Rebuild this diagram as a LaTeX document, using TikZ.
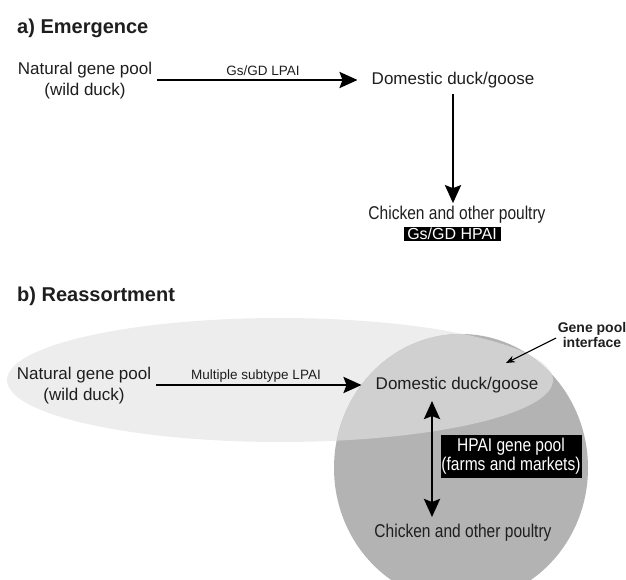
\documentclass[tikz,border=0pt]{standalone}
\usepackage{fontspec}
\setmainfont{Liberation Sans}
\newfontfamily\condfont[FakeStretch=0.84]{Liberation Sans}
\usetikzlibrary{arrows.meta}
\definecolor{txt}{RGB}{30,30,30}
\definecolor{wildpool}{RGB}{237,237,237}
\definecolor{overlap}{RGB}{208,208,208}
\definecolor{hpaipool}{RGB}{179,179,179}
\tikzset{
  lab/.style={font=\fontsize{17}{21}\selectfont, text=txt, align=center, inner sep=2pt},
  smalllab/.style={font=\fontsize{13.5}{16}\selectfont, text=txt, inner sep=1pt},
  condlab/.style={font=\condfont\fontsize{18.5}{19}\selectfont, text=txt, inner sep=2pt},
  paneltitle/.style={font=\bfseries\fontsize{20}{22}\selectfont, text=txt, anchor=west, inner sep=0pt},
  bigarrow/.style={line width=2.8pt, draw=black, -{Stealth[length=18pt,width=16pt,inset=3pt]}},
  dblarrow/.style={line width=2.8pt, draw=black, {Stealth[length=18pt,width=16pt,inset=3pt]}-{Stealth[length=18pt,width=16pt,inset=3pt]}},
  thinarrow/.style={line width=1.1pt, draw=black, -{Stealth[length=9pt,width=7pt]}},
  blackbox/.style={fill=black, text=white, inner sep=0pt}
}
\begin{document}
\begin{tikzpicture}[x=1pt,y=-1pt]
\useasboundingbox (0,0) rectangle (626,579);

% ---------- a) Emergence ----------
\node[paneltitle] (ta) at (17,28) {a) Emergence};
\node[lab] (nat1) at (85,81) {Natural gene pool\\(wild duck)};
\node[lab] (dom1) at (453,80) {Domestic duck/goose};
\node[smalllab] (lpai1) at (263,71) {Gs/GD LPAI};
\node[condlab] (chick1) at (457,215) {Chicken and other poultry};
\node[blackbox, minimum width=97pt, minimum height=14pt, font=\fontsize{16}{16}\selectfont] (hp1) at (452,234) {Gs/GD HPAI};
\draw[bigarrow, shorten <=3pt, shorten >=12pt] (nat1.east |- dom1.west) -- (dom1.west);
\draw[bigarrow, shorten <=4pt, shorten >=1pt] (dom1.south) -- (dom1.south |- chick1.north);

% ---------- b) Reassortment ----------
\node[paneltitle] (tb) at (17,296) {b) Reassortment};
\fill[wildpool] (280,380) ellipse [x radius=273pt, y radius=62pt];
\fill[hpaipool] (461,468) ellipse [x radius=127pt, y radius=134pt];
\begin{scope}
  \clip (461,468) ellipse [x radius=127pt, y radius=134pt];
  \fill[overlap] (280,380) ellipse [x radius=273pt, y radius=62pt];
\end{scope}

\node[lab] (nat2) at (84,386) {Natural gene pool\\(wild duck)};
\node[lab] (dom2) at (457,385) {Domestic duck/goose};
\node[smalllab] (lpai2) at (256,376) {Multiple subtype LPAI};
\node[condlab] (chick2) at (463,533) {Chicken and other poultry};
\node[blackbox, minimum width=141pt, minimum height=43pt, align=center, font=\condfont\fontsize{18.5}{19}\selectfont] (hp2) at (511,456) {HPAI gene pool\\(farms and markets)};
\node[font=\bfseries\fontsize{14}{15}\selectfont, text=txt, align=center, inner sep=0pt] (gpi) at (592,335) {Gene pool\\interface};

\draw[bigarrow, shorten <=3pt, shorten >=12pt] (nat2.east |- dom2.west) -- (dom2.west);
\coordinate (gpiStart) at (556,338);
\coordinate (gpiEnd) at (506,363);
\draw[thinarrow] (gpiStart) -- (gpiEnd);
\coordinate (dtop) at (432,401);
\coordinate (dbot) at (432,517);
\draw[dblarrow] (dtop) -- (dbot);
\end{tikzpicture}
\end{document}
